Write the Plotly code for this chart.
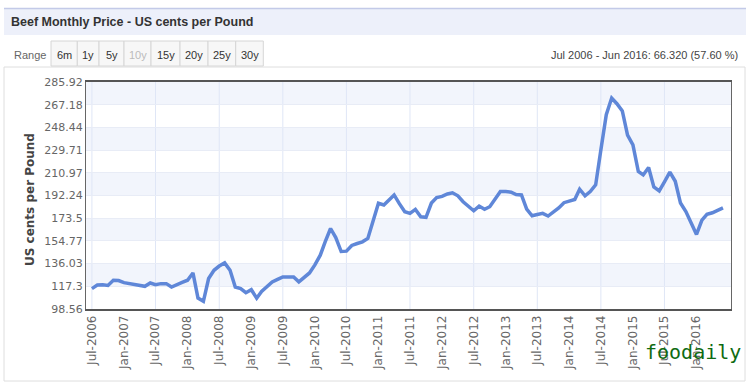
import plotly.graph_objects as go
import pandas as pd

# ---- data ----
start_month = "2006-07-01"
n_months = 120
prices = [
    115.4, 118.3, 118.5, 118.0, 122.3, 122.0, 120.3, 119.5, 119.2, 118.5, 117.3, 120.0,
    118.7, 119.5, 119.5, 116.7, 119.0, 120.5, 122.3, 128.3, 107.6, 104.9, 123.7, 130.5,
    134.0, 136.6, 130.5, 116.7, 115.4, 112.0, 114.5, 107.5, 113.0, 117.0, 120.8, 123.0,
    125.0, 125.0, 125.0, 121.0, 125.0, 128.3, 135.0, 143.0, 154.0, 165.0, 157.5, 146.0,
    146.3, 151.0, 152.6, 154.0, 156.8, 171.0, 185.8, 184.4, 188.0, 192.7, 185.5, 178.8,
    177.5, 180.8, 174.7, 174.2, 186.0, 190.5, 191.5, 193.5, 194.5, 192.0, 187.1, 183.0,
    179.6, 183.5, 180.8, 183.0, 190.0, 195.5, 195.5, 195.0, 193.0, 192.7, 181.0, 175.5,
    176.5, 177.5, 175.3, 178.5, 182.0, 186.3, 187.5, 189.0, 197.4, 192.0, 195.5, 201.0,
    230.0, 258.9, 272.7, 268.0, 262.0, 242.0, 234.0, 212.0, 209.2, 215.3, 199.3, 196.0,
    203.5, 211.5, 204.0, 186.0, 179.0, 170.0, 160.1, 171.9, 176.7, 178.0, 180.0, 182.1,
]
y_ticks = [98.56, 117.3, 136.03, 154.77, 173.5, 192.24, 210.97, 229.71, 248.44, 267.18, 285.92]
y_tick_text = ["98.56", "117.3", "136.03", "154.77", "173.5", "192.24", "210.97",
               "229.71", "248.44", "267.18", "285.92"]
x_tick_dates = pd.date_range("2006-07-01", "2016-01-01", freq="6MS")
x_grid_dates = pd.date_range("2006-07-01", "2015-07-01", freq="12MS")
range_buttons = ["6m", "1y", "5y", "10y", "15y", "20y", "25y", "30y"]
title_text = "Beef Monthly Price - US cents per Pound"
summary_text = "Jul 2006 - Jun 2016: 66.320 (57.60 %)"
y_title = "US cents per Pound"

months = pd.date_range(start_month, periods=n_months, freq="MS")

# ---- layout geometry (pixels) ----
W, H = 750, 389
L, R, T, B = 86, 731, 82, 309
PW, PH = R - L, B - T


def px(x):
    return (x - L) / PW


def py(y):
    return (B - y) / PH


fig = go.Figure()
fig.add_trace(go.Scatter(
    x=months, y=prices, mode="lines",
    line=dict(color="#5f87d8", width=3.5),
    hoverinfo="skip", showlegend=False,
))

shapes = []
# alternate bands
for i in range(len(y_ticks) - 1):
    if (len(y_ticks) - 2 - i) % 2 == 0:
        shapes.append(dict(type="rect", xref="paper", yref="y", x0=0, x1=1,
                           y0=y_ticks[i], y1=y_ticks[i + 1],
                           fillcolor="#f2f5fc", line=dict(width=0), layer="below"))
# vertical yearly grid
for d in x_grid_dates:
    shapes.append(dict(type="line", xref="x", yref="paper", x0=d, x1=d, y0=0, y1=1,
                       line=dict(color="#dfe6f6", width=1), layer="below"))
# title bar
shapes.append(dict(type="rect", xref="paper", yref="paper", x0=px(4), x1=px(746),
                   y0=py(35), y1=py(8), fillcolor="#edf0fa", line=dict(width=0), layer="below"))
shapes.append(dict(type="line", xref="paper", yref="paper", x0=px(4), x1=px(746),
                   y0=py(8.5), y1=py(8.5), line=dict(color="#c3cae8", width=1.5)))
# container border
shapes.append(dict(type="rect", xref="paper", yref="paper", x0=px(4), x1=px(745),
                   y0=py(381), y1=py(67), line=dict(color="#dedede", width=1), layer="below"))

annotations = []
# range buttons
btn_edges = [51, 77.3, 99, 124, 151, 180, 208, 235.7, 263.3]
for i, lab in enumerate(range_buttons):
    x0, x1 = btn_edges[i], btn_edges[i + 1]
    shapes.append(dict(type="rect", xref="paper", yref="paper", x0=px(x0), x1=px(x1),
                       y0=py(66), y1=py(41), fillcolor="#f7f7f7",
                       line=dict(color="#d6d6d6", width=1), layer="below"))
    annotations.append(dict(xref="paper", yref="paper", x=px((x0 + x1) / 2), y=py(54.5),
                            text=lab, showarrow=False, xanchor="center", yanchor="middle",
                            font=dict(family="Liberation Sans", size=11,
                                      color="#bbbbbb" if lab == "10y" else "#333333")))
annotations.append(dict(xref="paper", yref="paper", x=px(12), y=py(54.5), text="Range",
                        showarrow=False, xanchor="left", yanchor="middle",
                        font=dict(family="Liberation Sans", size=11, color="#666666")))
annotations.append(dict(xref="paper", yref="paper", x=px(9), y=py(22), text="<b>" + title_text + "</b>",
                        showarrow=False, xanchor="left", yanchor="middle",
                        font=dict(family="Liberation Sans", size=12.5, color="#333333")))
annotations.append(dict(xref="paper", yref="paper", x=px(740), y=py(54.5), text=summary_text,
                        showarrow=False, xanchor="right", yanchor="middle",
                        font=dict(family="Liberation Sans", size=11, color="#444444")))
annotations.append(dict(xref="paper", yref="paper", x=px(30), y=py(200), text="<b>" + y_title + "</b>",
                        showarrow=False, textangle=-90, xanchor="center", yanchor="middle",
                        font=dict(family="DejaVu Sans", size=12, color="#444444")))
annotations.append(dict(xref="paper", yref="paper", x=px(643), y=py(352), text="foodaily",
                        showarrow=False, xanchor="left", yanchor="middle",
                        font=dict(family="DejaVu Sans Mono", size=20, color="#0f6b12")))

fig.update_layout(
    width=W, height=H,
    margin=dict(l=L, r=W - R, t=T, b=H - B),
    paper_bgcolor="white", plot_bgcolor="white",
    shapes=shapes, annotations=annotations,
    xaxis=dict(
        type="date",
        range=["2006-05-28", "2016-07-17"],
        tickvals=list(x_tick_dates),
        ticktext=[d.strftime("%b-%Y") for d in x_tick_dates],
        tickangle=-90, showgrid=False, zeroline=False,
        showline=True, linecolor="#555555", linewidth=1.5, mirror=True,
        ticks="", tickfont=dict(family="DejaVu Sans", size=12, color="#666666"),
    ),
    yaxis=dict(
        range=[y_ticks[0], y_ticks[-1]],
        tickvals=y_ticks, ticktext=y_tick_text,
        showgrid=True, gridcolor="#e8ecf6", gridwidth=1, zeroline=False,
        showline=True, linecolor="#666666", linewidth=1, mirror=True,
        ticks="", tickfont=dict(family="DejaVu Sans", size=11, color="#666666"),
    ),
)

fig.write_html("out.html", config={"displayModeBar": False},
               post_script="document.body.style.margin='0px';")
